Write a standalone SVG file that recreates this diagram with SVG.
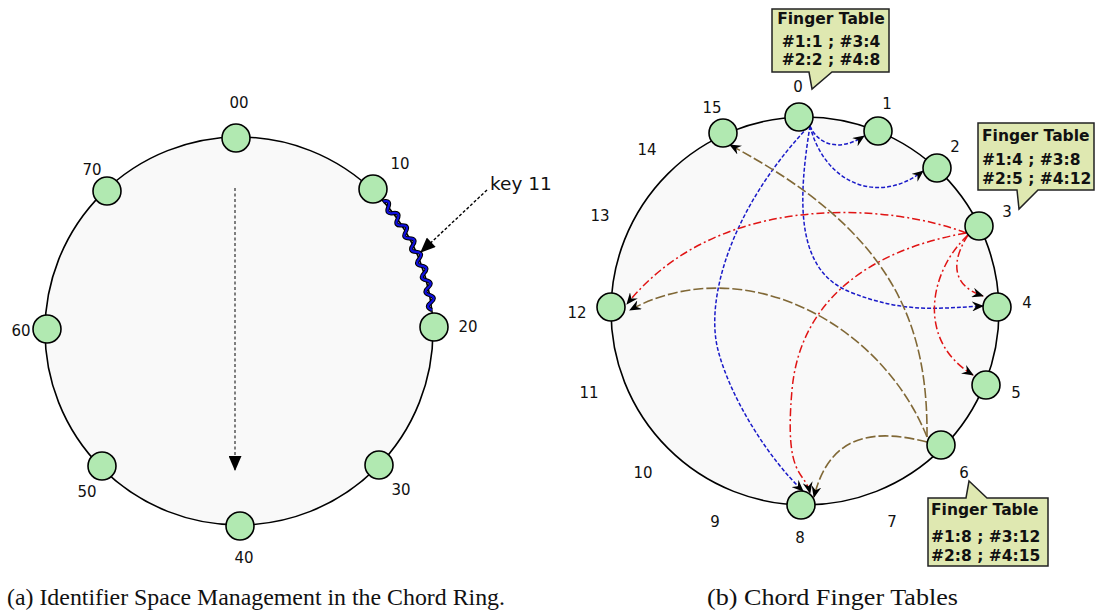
<svg xmlns="http://www.w3.org/2000/svg" width="1096" height="612" viewBox="0 0 1096 612">
<defs>
<style>
.ring{fill:#f9f9f9;stroke:#000;stroke-width:1.6}
.node{fill:#b1e9b1;stroke:#000;stroke-width:1.6}
.lbl{font-family:"DejaVu Sans",sans-serif;font-size:15px;fill:#111}
.ft{font-family:"DejaVu Sans",sans-serif;font-weight:bold;font-size:15.5px;fill:#111}
.box{fill:#dfe8b1;stroke:#222;stroke-width:1.5}
.cap{font-family:"Liberation Serif",serif;font-size:23px;fill:#111}
.blue{fill:none;stroke:#1a1ac8;stroke-width:1.5;stroke-dasharray:4,2;marker-end:url(#ah)}
.red{fill:none;stroke:#e01414;stroke-width:1.5;stroke-dasharray:8,3,2,3;marker-end:url(#ah)}
.brown{fill:none;stroke:#806836;stroke-width:1.6;stroke-dasharray:10,3;marker-end:url(#ah)}
</style>
<marker id="ah" viewBox="0 0 12 10" refX="11" refY="5" markerWidth="12" markerHeight="10" markerUnits="userSpaceOnUse" orient="auto"><path d="M0,0 L12,5 L0,10 L4,5 Z" fill="#000"/></marker>
<marker id="tri" viewBox="0 0 14 12" refX="13" refY="6" markerWidth="17" markerHeight="13" markerUnits="userSpaceOnUse" orient="auto"><path d="M0,0 L14,6 L0,12 Z" fill="#000"/></marker>
<path id="coil" d="M383.4,201.4 Q391.2,199.7 388.3,207.2 Q385.2,214.4 393.1,213.1 Q400.9,212.0 397.5,219.1 Q393.9,226.2 401.7,225.4 Q409.7,224.9 405.7,231.8 Q401.5,238.5 409.5,238.4 Q417.4,238.5 412.9,245.1 Q408.2,251.5 416.1,251.9 Q424.1,252.6 419.1,258.9 Q413.9,264.9 421.8,265.9 Q429.6,267.3 424.2,273.1 Q418.5,278.7 426.3,280.3 Q434.0,282.3 428.1,287.7 Q422.1,292.8 429.6,295.1 Q437.2,297.6 430.9,302.5 Q424.5,307.1 431.9,310.0" fill="none"/>
</defs>

<!-- Left diagram -->
<g id="ring-a"><circle class="ring" cx="239" cy="331" r="194"/></g>
<g id="connectors-a">
<line x1="235" y1="188" x2="235" y2="470" stroke="#555" stroke-width="1.5" stroke-dasharray="3,2.5" marker-end="url(#tri)"/>
<use href="#coil" stroke="#000" stroke-width="4.2"/>
<use href="#coil" stroke="#1010e0" stroke-width="2.2"/>
<line x1="487" y1="190" x2="421" y2="252" stroke="#000" stroke-width="1.4" stroke-dasharray="3,2" marker-end="url(#tri)"/>
</g>
<g id="n00"><circle class="node" cx="236" cy="138" r="14"/><text class="lbl" x="239" y="108" text-anchor="middle">00</text></g>
<g id="n10"><circle class="node" cx="373" cy="189" r="14"/><text class="lbl" x="400" y="169" text-anchor="middle">10</text></g>
<g id="n20"><circle class="node" cx="434" cy="327" r="14"/><text class="lbl" x="468" y="332" text-anchor="middle">20</text></g>
<g id="n30"><circle class="node" cx="379" cy="465" r="14"/><text class="lbl" x="401" y="495" text-anchor="middle">30</text></g>
<g id="n40"><circle class="node" cx="240" cy="526" r="14"/><text class="lbl" x="244" y="563" text-anchor="middle">40</text></g>
<g id="n50"><circle class="node" cx="102" cy="466" r="14"/><text class="lbl" x="87" y="497" text-anchor="middle">50</text></g>
<g id="n60"><circle class="node" cx="47" cy="329" r="14"/><text class="lbl" x="21" y="336" text-anchor="middle">60</text></g>
<g id="n70"><circle class="node" cx="107" cy="191" r="14"/><text class="lbl" x="92" y="175" text-anchor="middle">70</text></g>
<text class="lbl" x="490" y="190" style="font-size:18.5px">key 11</text>

<!-- Right diagram -->
<g id="ring-b"><circle class="ring" cx="805" cy="311" r="194"/></g>
<g id="connectors-b">
<path class="blue" d="M810,126 C818,145 840,152 864,136"/>
<path class="blue" d="M810,126 C825,185 880,205 923,171"/>
<path class="blue" d="M810,126 C798,200 795,270 850,292 S940,308 983,306"/>
<path class="blue" d="M808,127 C730,210 705,300 718,350 S770,460 803,491"/>
<path class="red" d="M966,233 C895,205 720,188 627,304"/>
<path class="red" d="M968,235 C952,260 950,285 983,296"/>
<path class="red" d="M968,235 C930,270 915,340 973,375"/>
<path class="red" d="M966,233 C870,250 800,300 792,390 S805,470 810,493"/>
<path class="brown" d="M927,437 C928,320 890,230 730,145"/>
<path class="brown" d="M927,437 C880,320 740,250 630,310"/>
<path class="brown" d="M927,442 C880,430 830,430 814,497"/>
</g>
<g id="f0"><circle class="node" cx="799" cy="117" r="14"/><text class="lbl" x="798" y="92" text-anchor="middle">0</text></g>
<g id="f1"><circle class="node" cx="878" cy="131" r="14"/><text class="lbl" x="887" y="109" text-anchor="middle">1</text></g>
<g id="f2"><circle class="node" cx="937" cy="168" r="14"/><text class="lbl" x="955" y="152" text-anchor="middle">2</text></g>
<g id="f3"><circle class="node" cx="979" cy="226" r="14"/><text class="lbl" x="1007" y="217" text-anchor="middle">3</text></g>
<g id="f4"><circle class="node" cx="997" cy="307" r="14"/><text class="lbl" x="1027" y="308" text-anchor="middle">4</text></g>
<g id="f5"><circle class="node" cx="986" cy="385" r="14"/><text class="lbl" x="1016" y="398" text-anchor="middle">5</text></g>
<g id="f6"><circle class="node" cx="941" cy="445" r="14"/><text class="lbl" x="964" y="478" text-anchor="middle">6</text></g>
<g id="f8"><circle class="node" cx="801" cy="505" r="14"/><text class="lbl" x="800" y="543" text-anchor="middle">8</text></g>
<g id="f12"><circle class="node" cx="611" cy="307" r="14"/><text class="lbl" x="577" y="318" text-anchor="middle">12</text></g>
<g id="f15"><circle class="node" cx="723" cy="133" r="14"/><text class="lbl" x="712" y="113" text-anchor="middle">15</text></g>
<g id="ids">
<text class="lbl" x="892" y="527" text-anchor="middle">7</text>
<text class="lbl" x="715" y="527" text-anchor="middle">9</text>
<text class="lbl" x="643" y="478" text-anchor="middle">10</text>
<text class="lbl" x="589" y="398" text-anchor="middle">11</text>
<text class="lbl" x="600" y="221" text-anchor="middle">13</text>
<text class="lbl" x="647" y="155" text-anchor="middle">14</text>
</g>

<g id="ft0">
<path class="box" d="M772,9 H889 V72 H832 L812,89 L809,72 H772 Z"/>
<text class="ft" x="831" y="24" text-anchor="middle">Finger Table</text>
<text class="ft" x="831" y="47" text-anchor="middle">#1:1 ; #3:4</text>
<text class="ft" x="831" y="65" text-anchor="middle">#2:2 ; #4:8</text>
</g>
<g id="ft3">
<path class="box" d="M978,123 H1094 V190 H1038 L1019,209 L1017,190 H978 Z"/>
<text class="ft" x="982" y="141">Finger Table</text>
<text class="ft" x="982" y="165">#1:4 ; #3:8</text>
<text class="ft" x="982" y="184">#2:5 ; #4:12</text>
</g>
<g id="ft6">
<path class="box" d="M928,498 H966 L969,481 L987,498 H1048 V566 H928 Z"/>
<text class="ft" x="931" y="515">Finger Table</text>
<text class="ft" x="931" y="542">#1:8 ; #3:12</text>
<text class="ft" x="931" y="561">#2:8 ; #4:15</text>
</g>

<text class="cap" x="7" y="605" textLength="498" lengthAdjust="spacingAndGlyphs">(a) Identifier Space Management in the Chord Ring.</text>
<text class="cap" x="707" y="605" textLength="251" lengthAdjust="spacingAndGlyphs">(b) Chord Finger Tables</text>
</svg>
